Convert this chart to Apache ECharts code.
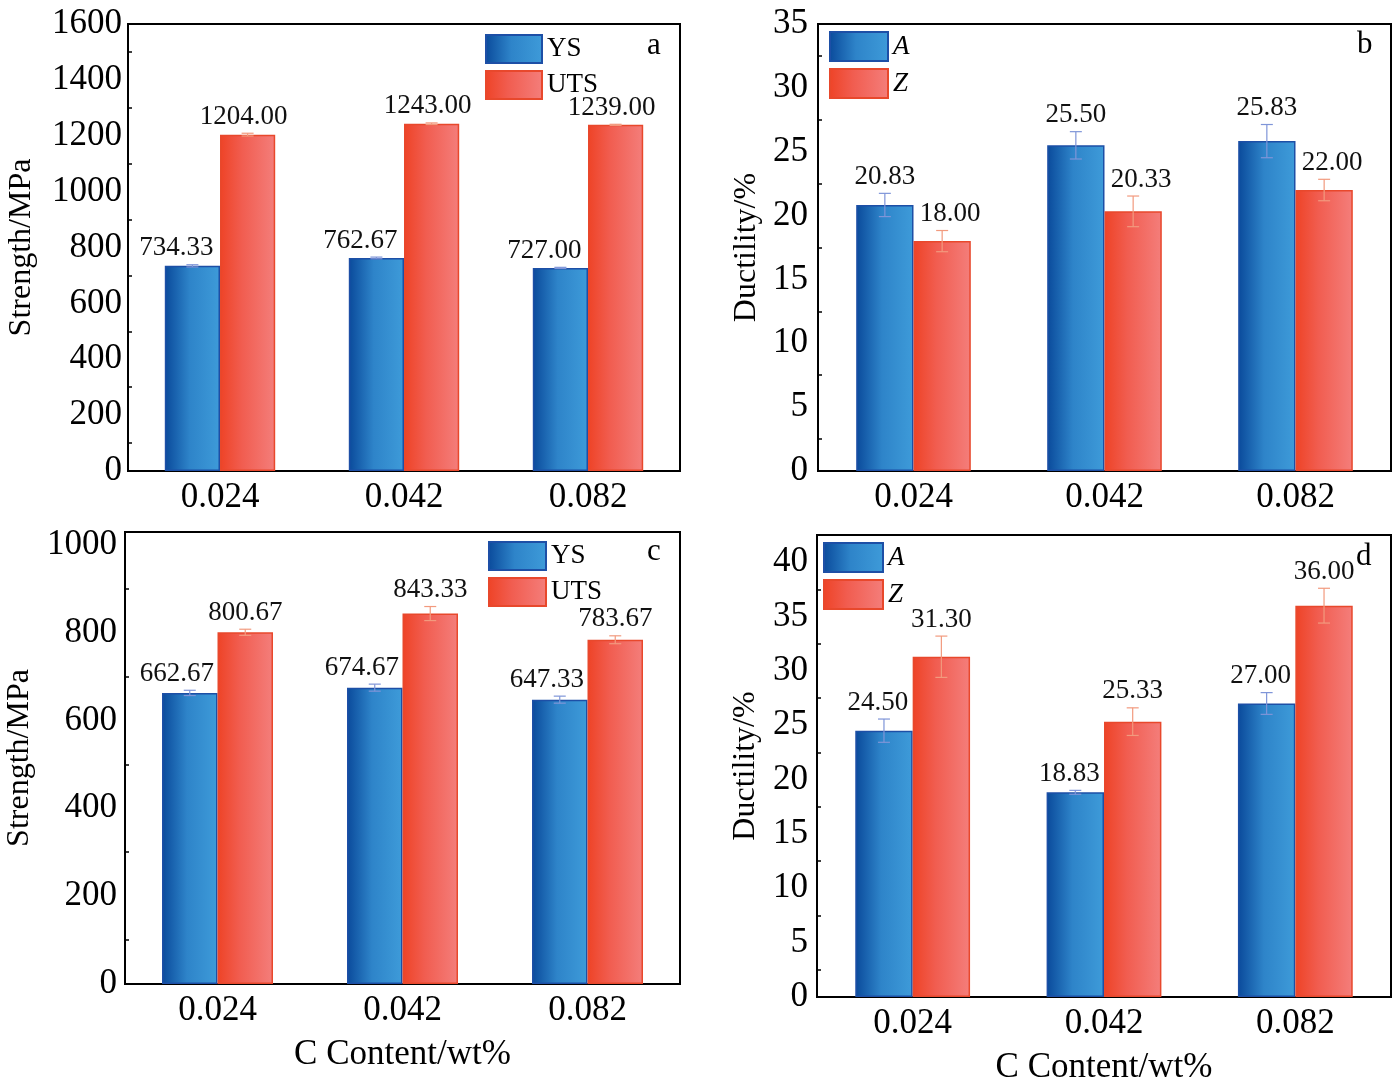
<!DOCTYPE html>
<html>
<head>
<meta charset="utf-8">
<script src="https://cdn.jsdelivr.net/npm/echarts@6/dist/echarts.min.js"></script>
<style>
  html, body { margin: 0; padding: 0; background: #fff; }
  #main { width: 1397px; height: 1090px; }
</style>
</head>
<body>
<div id="main"></div>
<script>
// categories (C content, wt%)
const categories = ['0.024', '0.042', '0.082'];

// panel a: strength
const ysA = [734.33, 762.67, 727.00];
const ysAErr = [4, 3, 2];
const utsA = [1204.00, 1243.00, 1239.00];
const utsAErr = [5, 3, 2];

// panel b: ductility
const elongB = [20.83, 25.50, 25.83];
const elongBErr = [0.91, 1.07, 1.3];
const raB = [18.00, 20.33, 22.00];
const raBErr = [0.83, 1.2, 0.84];

// panel c: strength
const ysC = [662.67, 674.67, 647.33];
const ysCErr = [6, 8, 8];
const utsC = [800.67, 843.33, 783.67];
const utsCErr = [7, 16, 9];

// panel d: ductility
const elongD = [24.50, 18.83, 27.00];
const elongDErr = [1.07, 0.18, 1.0];
const raD = [31.30, 25.33, 36.00];
const raDErr = [1.9, 1.27, 1.6];

const FONT = '"Liberation Serif", "Times New Roman", serif';

const blueFill = new echarts.graphic.LinearGradient(0, 0, 1, 0, [
  {offset: 0, color: '#0a4a9b'},
  {offset: 0.45, color: '#2e84c9'},
  {offset: 1, color: '#3e9bd9'}
]);
const redFill = new echarts.graphic.LinearGradient(0, 0, 1, 0, [
  {offset: 0, color: '#ee4326'},
  {offset: 0.4, color: '#f15d50'},
  {offset: 1, color: '#f47e7b'}
]);

const chart = echarts.init(document.getElementById('main'));

const grids = [
  {left: 128, top: 24, width: 552, height: 447},
  {left: 818, top: 24, width: 573, height: 447},
  {left: 125, top: 532, width: 555, height: 452},
  {left: 817, top: 535, width: 574, height: 462}
].map(g => Object.assign(g, {show: true, borderColor: '#000', borderWidth: 2, backgroundColor: 'transparent'}));

const xAxis = (i, name) => ({
  gridIndex: i,
  type: 'category',
  data: categories,
  name: name || '',
  nameLocation: 'middle',
  nameGap: 53,
  nameTextStyle: {fontSize: 35, fontFamily: FONT, color: '#000'},
  axisLine: {lineStyle: {color: '#000', width: 2}},
  axisTick: {show: false},
  axisLabel: {fontSize: 35, fontFamily: FONT, color: '#000', margin: 9}
});

const yAxis = (i, max, interval, name, gap, margin, showMax) => ({
  gridIndex: i,
  type: 'value',
  min: 0,
  max: max,
  interval: interval,
  name: name,
  nameLocation: 'middle',
  nameGap: gap,
  nameTextStyle: {fontSize: 32, fontFamily: FONT, color: '#000'},
  axisLine: {show: true, lineStyle: {color: '#000', width: 2}},
  axisTick: {inside: true, length: 8, lineStyle: {color: '#000', width: 2}},
  minorTick: {show: true, splitNumber: 2, length: 4, lineStyle: {color: '#000', width: 1.5}},
  splitLine: {show: false},
  axisLabel: {
    fontSize: 35, fontFamily: FONT, color: '#000', margin: margin, showMaxLabel: showMax,
    formatter: v => String(v)
  }
});

const barSeries = (name, i, data, fill, border) => ({
  name: name,
  type: 'bar',
  xAxisIndex: i,
  yAxisIndex: i,
  data: data,
  barGap: '0%',
  barCategoryGap: '40%',
  itemStyle: {color: fill, borderColor: border, borderWidth: 1.5}
});

// error bars plus value labels, drawn through the axis scales
const errSeries = (i, vals, errs, side, color, dx) => ({
  type: 'custom',
  xAxisIndex: i,
  yAxisIndex: i,
  z: 5,
  data: vals.map((v, k) => [k, v, errs[k]]),
  renderItem: (params, api) => {
    const c = api.value(0), v = api.value(1), e = api.value(2);
    const band = api.size([1, 0])[0];
    const x = api.coord([c, v])[0] + side * band * 0.15;
    const yHi = api.coord([c, v + e])[1];
    const yLo = api.coord([c, v - e])[1];
    const cap = 6;
    const ls = {stroke: color, lineWidth: 1.2};
    return {
      type: 'group',
      children: [
        {type: 'line', shape: {x1: x, y1: yHi, x2: x, y2: yLo}, style: ls},
        {type: 'line', shape: {x1: x - cap, y1: yHi, x2: x + cap, y2: yHi}, style: ls},
        {type: 'line', shape: {x1: x - cap, y1: yLo, x2: x + cap, y2: yLo}, style: ls},
        {
          type: 'text', x: x + dx, y: yHi - 3,
          style: {
            text: v.toFixed(2), fill: '#111', fontSize: 27, fontFamily: FONT,
            align: 'center', verticalAlign: 'bottom'
          }
        }
      ]
    };
  }
});

const legend = (left, top, names, w, h, italic) => ({
  left: left,
  top: top,
  padding: 0,
  orient: 'vertical',
  data: names,
  itemWidth: w,
  itemHeight: h,
  itemGap: 6,
  icon: 'rect',
  selectedMode: false,
  textStyle: {fontSize: 27, fontFamily: FONT, color: '#000', fontStyle: italic ? 'italic' : 'normal'}
});

const letter = (t, left, top) => ({
  type: 'text', left: left, top: top,
  style: {text: t, fontSize: 31, fontFamily: FONT, fill: '#000'}
});

const blueErr = '#7f95d8';
const redErr = '#f29a7e';

const option = {
  animation: false,
  backgroundColor: '#fff',
  grid: grids,
  xAxis: [xAxis(0), xAxis(1), xAxis(2, 'C Content/wt%'), xAxis(3, 'C Content/wt%')],
  yAxis: [
    yAxis(0, 1600, 200, 'Strength/MPa', 90, 6, true),
    yAxis(1, 35, 5, 'Ductility/%', 55, 10, true),
    yAxis(2, 1029, 200, 'Strength/MPa', 89, 8, false),
    yAxis(3, 42.5, 5, 'Ductility/%', 55, 9, false)
  ],
  legend: [
    legend(485, 34, ['YS', 'UTS'], 56, 28, false),
    legend(829, 31, ['A', 'Z'], 58, 29, true),
    legend(488, 541, ['YS', 'UTS'], 57, 28, false),
    legend(823, 542, ['A', 'Z'], 59, 29, true)
  ],
  graphic: [
    letter('a', 647, 30),
    letter('b', 1357, 29),
    letter('c', 647, 536),
    letter('d', 1356, 541)
  ],
  series: [
    barSeries('YS', 0, ysA, blueFill, '#1d4fa6'),
    barSeries('UTS', 0, utsA, redFill, '#e8482c'),
    errSeries(0, ysA, ysAErr, -1, blueErr, -16),
    errSeries(0, utsA, utsAErr, 1, redErr, -4),

    barSeries('A', 1, elongB, blueFill, '#1d4fa6'),
    barSeries('Z', 1, raB, redFill, '#e8482c'),
    errSeries(1, elongB, elongBErr, -1, blueErr, 0),
    errSeries(1, raB, raBErr, 1, redErr, 8),

    barSeries('YS', 2, ysC, blueFill, '#1d4fa6'),
    barSeries('UTS', 2, utsC, redFill, '#e8482c'),
    errSeries(2, ysC, ysCErr, -1, blueErr, -13),
    errSeries(2, utsC, utsCErr, 1, redErr, 0),

    barSeries('A', 3, elongD, blueFill, '#1d4fa6'),
    barSeries('Z', 3, raD, redFill, '#e8482c'),
    errSeries(3, elongD, elongDErr, -1, blueErr, -6),
    errSeries(3, raD, raDErr, 1, redErr, 0)
  ]
};

chart.setOption(option);
</script>
</body>
</html>
